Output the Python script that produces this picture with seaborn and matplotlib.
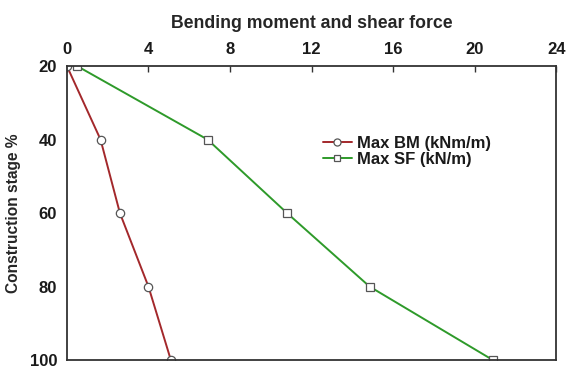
import seaborn as sns
import matplotlib.pyplot as plt
import pandas as pd

stage = [20, 40, 60, 80, 100]
max_bm = [0.0, 1.65, 2.6, 4.0, 5.1]
max_sf = [0.5, 6.9, 10.8, 14.85, 20.9]

sns.set_style("white")
plt.rcParams['font.family'] = ['Liberation Sans', 'DejaVu Sans']
plt.rcParams['font.weight'] = 'bold'
plt.rcParams['text.color'] = '#1a1a1a'

df_bm = pd.DataFrame({"stage": stage, "value": max_bm})
df_sf = pd.DataFrame({"stage": stage, "value": max_sf})

fig = plt.figure(figsize=(5.67, 3.69), dpi=100)
ax = fig.add_axes([0.118, 0.024, 0.863, 0.797])

sns.lineplot(x="value", y="stage", data=df_bm, sort=False, estimator=None, ax=ax,
             color="#a3282b", lw=1.4, marker="o", markersize=6,
             markerfacecolor="white", markeredgecolor="#555555", markeredgewidth=0.9,
             label="Max BM (kNm/m)")
sns.lineplot(x="value", y="stage", data=df_sf, sort=False, estimator=None, ax=ax,
             color="#2e9a2a", lw=1.4, marker="s", markersize=5.5,
             markerfacecolor="white", markeredgecolor="#555555", markeredgewidth=0.9,
             label="Max SF (kN/m)")

ax.set_xlim(0, 24)
ax.set_ylim(100, 20)
ax.set_xticks([0, 4, 8, 12, 16, 20, 24])
ax.set_yticks([20, 40, 60, 80, 100])
ax.xaxis.set_label_position("top")
ax.xaxis.tick_top()
ax.tick_params(axis="x", direction="in", length=4, width=1, labelsize=12, pad=6.5,
               color="#333333", labelcolor="#1a1a1a")
ax.tick_params(axis="y", direction="out", length=4, width=1, labelsize=12, pad=3,
               color="#333333", labelcolor="#1a1a1a")
ax.set_xlabel("Bending moment and shear force", fontsize=12.7, fontweight="bold", labelpad=10)
ax.set_ylabel("Construction stage %", fontsize=11.2, fontweight="bold", labelpad=6)
for s in ax.spines.values():
    s.set_color("#333333")
    s.set_linewidth(1.3)

leg = ax.legend(loc="center left", bbox_to_anchor=(0.523, 0.71), frameon=False, fontsize=12,
                borderpad=0, borderaxespad=0, markerscale=0.85,
                handlelength=1.75, handletextpad=0.3, labelspacing=0.08)

fig.savefig("out.png", dpi=100)
